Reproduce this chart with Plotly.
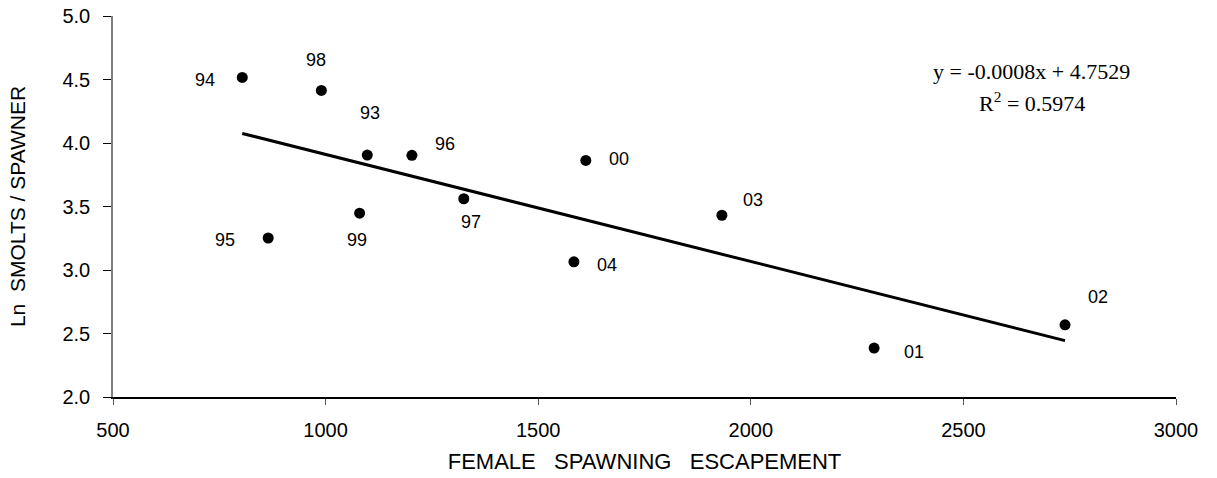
import numpy as np
import plotly.graph_objects as go

# Brood-year labels, female spawning escapement and ln(smolts per spawner)
YEARS = ["93", "94", "95", "96", "97", "98", "99", "00", "01", "02", "03", "04"]
ESCAPEMENT = [1098, 804, 865, 1203, 1325, 990, 1080, 1612, 2290, 2739, 1932, 1584]
LN_SMOLTS_PER_SPAWNER = [3.905, 4.516, 3.252, 3.903, 3.561, 4.414, 3.447, 3.863,
                         2.385, 2.568, 3.431, 3.064]

# Linear trend fitted to the points
TREND_SLOPE = -0.000843
TREND_INTERCEPT = 4.7529
R_SQUARED = 0.5974

X_TICKS = [500, 1000, 1500, 2000, 2500, 3000]
Y_TICKS = [2.0, 2.5, 3.0, 3.5, 4.0, 4.5, 5.0]

# Pixel offsets of each year label from its point (dx right, dy up)
LABEL_OFFSETS = {
    "93": (3, 42), "94": (-37, -3), "95": (-43, -2), "96": (33, 11),
    "97": (7, -23), "98": (-5, 30), "99": (-3, -27), "00": (33, 1),
    "01": (40, -4), "02": (33, 28), "03": (31, 15), "04": (33, -3),
}

SANS = "Arial, 'Liberation Sans', sans-serif"
SERIF = "'Times New Roman', 'Liberation Serif', serif"

fig = go.Figure()

trend_x = np.array([min(ESCAPEMENT), max(ESCAPEMENT)], dtype=float)
trend_y = TREND_SLOPE * trend_x + TREND_INTERCEPT
fig.add_trace(go.Scatter(
    x=trend_x, y=trend_y, mode="lines",
    line=dict(color="black", width=3), hoverinfo="skip", showlegend=False,
))

fig.add_trace(go.Scatter(
    x=ESCAPEMENT, y=LN_SMOLTS_PER_SPAWNER, mode="markers",
    marker=dict(color="black", size=11), text=YEARS, showlegend=False,
))

annotations = []
for yr, xv, yv in zip(YEARS, ESCAPEMENT, LN_SMOLTS_PER_SPAWNER):
    dx, dy = LABEL_OFFSETS[yr]
    annotations.append(dict(
        x=xv, y=yv, xref="x", yref="y", text=yr, showarrow=False,
        xshift=dx, yshift=dy, font=dict(family=SANS, size=18, color="black"),
    ))

annotations.append(dict(
    x=2661, y=4.565, xref="x", yref="y", showarrow=False,
    text=f"y = {TREND_SLOPE:.4f}x + {TREND_INTERCEPT:.4f}",
    font=dict(family=SERIF, size=22, color="black"),
))
annotations.append(dict(
    x=2661, y=4.322, xref="x", yref="y", showarrow=False,
    text=f"R<sup>2</sup> = {R_SQUARED:.4f}",
    font=dict(family=SERIF, size=22, color="black"),
))

fig.update_layout(
    width=1217, height=478,
    margin=dict(l=113, r=41, t=16, b=81, autoexpand=False),
    paper_bgcolor="white", plot_bgcolor="white",
    annotations=annotations,
    showlegend=False,
)
fig.update_xaxes(
    range=[500, 3000], tickvals=X_TICKS, ticktext=[str(v) for v in X_TICKS],
    automargin=False,
    showgrid=False, zeroline=False,
    showline=True, linecolor="black", linewidth=1.5,
    ticks="outside", ticklen=6, tickcolor="#555555", tickwidth=1,
    ticklabelstandoff=8,
    tickfont=dict(family=SANS, size=20, color="black"),
    title=dict(
        text="FEMALE\u00a0\u00a0\u00a0SPAWNING\u00a0\u00a0\u00a0ESCAPEMENT",
        font=dict(family=SANS, size=22, color="black"), standoff=14,
    ),
)
fig.update_yaxes(
    range=[2, 5], tickvals=Y_TICKS, ticktext=[f"{v:.1f}" for v in Y_TICKS],
    automargin=False,
    showgrid=False, zeroline=False,
    showline=True, linecolor="#808080", linewidth=1.5,
    ticks="outside", ticklen=8, tickcolor="black", tickwidth=1,
    ticklabelstandoff=9,
    tickfont=dict(family=SANS, size=20, color="black"),
    title=dict(
        text="Ln\u00a0\u00a0SMOLTS / SPAWNER",
        font=dict(family=SANS, size=21, color="black"), standoff=31,
    ),
)

fig.write_html("out.html")
